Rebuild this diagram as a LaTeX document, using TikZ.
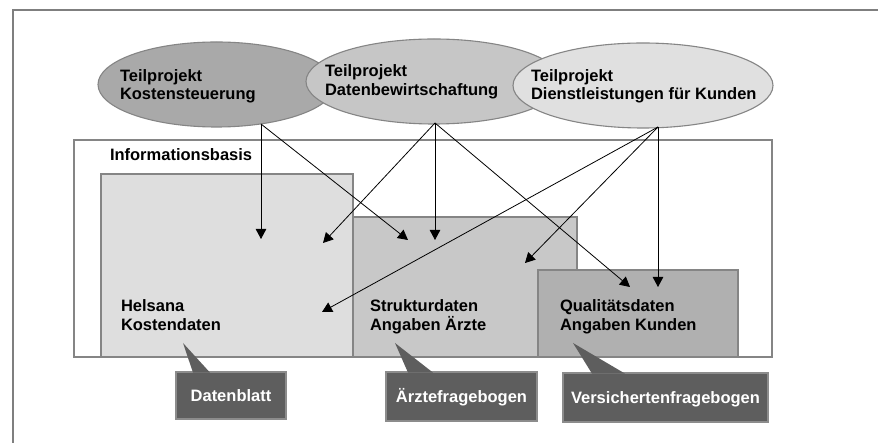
\documentclass[tikz,border=0pt]{standalone}
\usepackage{fontspec}
\setmainfont{Liberation Sans}
\usetikzlibrary{arrows.meta,shapes.geometric}
\definecolor{framegray}{HTML}{7F7F7F}
\definecolor{edgegray}{HTML}{858585}
\definecolor{ellA}{HTML}{A9A9A9}
\definecolor{ellB}{HTML}{C6C6C6}
\definecolor{ellC}{HTML}{E0E0E0}
\definecolor{boxA}{HTML}{DEDEDE}
\definecolor{boxB}{HTML}{C8C8C8}
\definecolor{boxC}{HTML}{B0B0B0}
\definecolor{calloutfill}{HTML}{5E5E5E}
\definecolor{calloutedge}{HTML}{8C8C8C}
\tikzset{
  lbl/.style={font=\fontsize{16.5}{18.5}\selectfont\bfseries, align=left, anchor=base west, inner sep=0pt, outer sep=0pt},
  proj/.style={ellipse, draw=edgegray, line width=1.1pt, inner sep=0pt, outer sep=0pt},
  databox/.style={rectangle, draw=edgegray, line width=1.4pt, anchor=north west, inner sep=0pt, outer sep=0pt},
  infobox/.style={rectangle, draw=edgegray, line width=1.1pt, fill=white, anchor=north west, inner sep=0pt, outer sep=0pt},
  callout/.style={rectangle, draw=calloutedge, fill=calloutfill, line width=1.1pt, text=white, font=\fontsize{16.5}{18.5}\selectfont\bfseries, anchor=north west, inner sep=0pt, outer sep=0pt, text height=12pt, text depth=0pt},
  pointer/.style={fill=calloutfill},
  link/.style={draw=black, line width=0.8pt, -{Triangle[length=10pt,width=10.5pt]}}
}
\begin{document}
\begin{tikzpicture}[x=1pt,y=-1pt]
\useasboundingbox (0,0) rectangle (878,443);
\fill[white] (0,0) rectangle (878,443);
\draw[framegray, line width=1.3pt] (13,443) -- (13,10) -- (878,10);

% project ellipses
\node[proj, fill=ellA, minimum width=237pt, minimum height=85pt] (E1) at (216.5,84.5) {};
\node[proj, fill=ellB, minimum width=256pt, minimum height=85pt] (E2) at (434,81.5) {};
\node[proj, fill=ellC, minimum width=260pt, minimum height=85pt] (E3) at (643,85.5) {};
\node[lbl] (T1) at (120,100) {Teilprojekt\\Kostensteuerung};
\node[lbl] (T2) at (325,95.5) {Teilprojekt\\Datenbewirtschaftung};
\node[lbl] (T3) at (531,100) {Teilprojekt\\Dienstleistungen für Kunden};

% information base
\node[infobox, minimum width=698pt, minimum height=217pt] (INFO) at (74,140) {};
\node[lbl] (INFOT) at (110,161) {Informationsbasis};
\node[databox, fill=boxA, minimum width=252pt, minimum height=183pt] (A) at (101,174) {};
\node[databox, fill=boxB, minimum width=224pt, minimum height=140pt] (B) at (353,217) {};
\node[databox, fill=boxC, minimum width=200pt, minimum height=87pt] (C) at (538,270) {};
\node[lbl] (AT) at (121,330.5) {Helsana\\Kostendaten};
\node[lbl] (BT) at (370,330.5) {Strukturdaten\\Angaben Ärzte};
\node[lbl] (CT) at (560,330.5) {Qualitätsdaten\\Angaben Kunden};

% connector ends
\coordinate (s1) at (261,124);
\coordinate (s2) at (435,123);
\coordinate (s3) at (658,127);
\coordinate (t11) at (261,239);
\coordinate (t12) at (408,240);
\coordinate (t21) at (323,243);
\coordinate (t22) at (435,240);
\coordinate (t23) at (630,287);
\coordinate (t31) at (322,312);
\coordinate (t32) at (525,263);
\coordinate (t33) at (658,287);
\path[link] (s1) -- (t11);
\path[link] (s1) -- (t12);
\path[link] (s2) -- (t21);
\path[link] (s2) -- (t22);
\path[link] (s2) -- (t23);
\path[link] (s3) -- (t31);
\path[link] (s3) -- (t32);
\path[link] (s3) -- (t33);

% callouts
\node[callout, minimum width=110pt, minimum height=47pt] (D1) at (176,372) {Datenblatt};
\node[callout, minimum width=151pt, minimum height=49pt] (D2) at (386,372) {Ärztefragebogen};
\node[callout, minimum width=205pt, minimum height=49pt] (D3) at (563,373) {Versichertenfragebogen};
\coordinate (p1) at (183,343);
\coordinate (p2) at (395,343);
\coordinate (p3) at (573,343);
\fill[pointer] (p1) -- (193,372.6) -- (210,372.6) -- cycle;
\fill[pointer] (p2) -- (408,372.6) -- (433,372.6) -- cycle;
\fill[pointer] (p3) -- (592,373.6) -- (625,373.6) -- cycle;
\end{tikzpicture}
\end{document}
